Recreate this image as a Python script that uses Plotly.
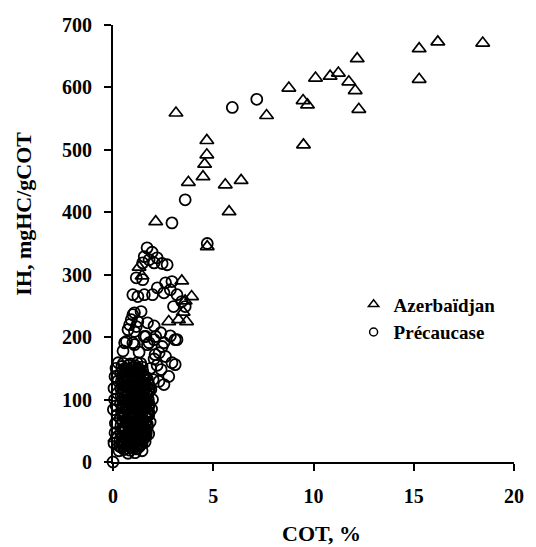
import plotly.graph_objects as go

# ---------------- data ----------------
az_cot = [3.14, 18.44, 16.2, 15.27, 15.27, 12.18, 12.26, 12.08, 11.76, 11.24,
          10.83, 10.1, 8.77, 9.48, 9.7, 7.66, 9.5, 4.68, 4.68, 4.57,
          4.49, 3.76, 5.6, 6.39, 5.79, 2.13, 4.7, 1.3, 1.45, 3.43,
          3.92, 3.6, 2.78, 3.27, 3.67, 3.5, 0.1, 0.25, 0.6, 1.2, 0.9, 1.6]
az_ih = [559, 671, 673, 662, 613, 646, 565, 595, 609, 623,
         618, 615, 599, 579, 572, 555, 508, 515, 492, 477,
         457, 448, 444, 451, 401, 385, 345, 312, 298, 290,
         265, 258, 225, 228, 225, 240, 38, 28, 120, 150, 60, 100]

pc_cot = [
    0, 5.95, 7.17, 3.6, 2.94, 4.7,
    1.7, 1.95, 1.56, 1.8, 2.2, 2.7, 1.48, 2.05, 2.45,
    1.16, 1.48, 0.99, 1.24, 1.56, 1.97, 2.21, 2.62, 2.94, 2.86, 3.19, 3.43, 3.02, 3.6, 2.54,
    1.07, 1.4, 0.91, 1.24, 1.72, 2.05, 2.38, 2.86, 3.1, 0.75, 1.07, 1.56, 2.05, 0.58, 1.07, 1.72, 2.54,
    0.99, 0.83, 1.16, 0.67, 0.99, 1.64, 2.13, 1.8, 2.45, 2.62, 2.94, 2.78, 2.54, 2.29, 3.1, 3.19,
    0.5, 1.3, 2.1, 2.2, 2.4, 2.05, 2.3,
    0.05, 0.12, 0.08, 0.15, 0.05, 0.2, 0.18, 0.3, 0.22, 0.15, 0.25, 0.34, 0.1, 0.02, 0.1, 0.26,
    1.89, 1.97, 1.8, 1.72, 1.64, 1.32, 2.0, 1.92, 1.85, 1.78, 1.6, 1.45, 1.1, 0.75, 1.88,
    0.42, 0.58, 0.74, 0.9, 1.06, 1.22, 1.38,
    0.35, 0.52, 0.68, 0.85, 1.0, 1.17, 1.34, 1.5,
    0.38, 0.55, 0.72, 0.88, 1.04, 1.2, 1.36, 1.52, 1.66,
    0.4, 0.57, 0.73, 0.9, 1.07, 1.23, 1.4, 1.56, 1.7,
    0.36, 0.52, 0.69, 0.86, 1.02, 1.19, 1.35, 1.52, 1.68, 1.78,
    0.42, 0.58, 0.75, 0.92, 1.08, 1.25, 1.42, 1.58, 1.74,
    0.37, 0.54, 0.7, 0.87, 1.03, 1.2, 1.37, 1.54, 1.7, 1.8,
    0.41, 0.58, 0.74, 0.91, 1.08, 1.24, 1.4, 1.57, 1.73,
    0.38, 0.55, 0.71, 0.88, 1.05, 1.21, 1.38, 1.54, 1.7, 1.82,
    0.42, 0.58, 0.75, 0.92, 1.08, 1.25, 1.41, 1.58, 1.72,
    0.38, 0.55, 0.72, 0.88, 1.05, 1.22, 1.38, 1.55,
    0.44, 0.6, 0.78, 0.95, 1.12, 1.28, 1.45,
    0.5, 0.82, 1.14, 1.45,
    0.46, 0.8, 1.12, 1.45,
    0.45, 0.78, 1.1, 1.44, 1.75,
    0.46, 0.8, 1.12, 1.46, 1.76,
    0.47, 0.8, 1.13, 1.46, 1.78,
    0.48, 0.82, 1.15, 1.48,
    0.44, 0.78, 1.1, 1.42, 1.6,
    0.48, 0.8, 1.14, 1.48, 1.62,
    0.46, 0.8, 1.14, 1.48, 1.78,
    0.46, 0.8, 1.14, 1.48, 1.78,
    0.48, 0.82, 1.16, 1.5, 1.65,
    0.5, 0.66, 0.98, 1.3,
    0.6, 0.93, 1.26, 1.55,
    0.63, 0.96, 1.28, 1.6,
    0.65, 0.98, 1.31, 1.64,
    0.6, 0.94, 1.27, 1.6,
    0.66, 0.98, 1.32, 1.66,
    0.62, 0.95, 1.29, 1.62,
    0.66, 0.99, 1.32, 1.65,
    0.63, 0.96, 1.3, 1.62,
    0.66, 0.99, 1.33, 1.58,
    0.64, 0.97, 1.3,
    0.52, 0.86, 1.2, 1.38,
    0.55, 0.85, 1.15,
]
pc_ih = [
    0, 568, 581, 420, 383, 350,
    343, 336, 329, 324, 327, 316, 319, 319, 318,
    295, 292, 268, 265, 268, 268, 279, 287, 289, 276, 268, 257, 249, 249, 271,
    239, 241, 228, 225, 223, 218, 207, 202, 196, 212, 209, 201, 196, 191, 188, 188, 191,
    236, 220, 217, 193, 191, 201, 201, 191, 185, 169, 159, 137, 124, 129, 156, 196,
    178, 176, 172, 155, 148, 165, 175,
    30, 62, 100, 150, 118, 75, 40, 18, 110, 90, 130, 25, 47, 84, 137, 159,
    116, 100, 79, 57, 41, 25, 132, 85, 64, 45, 32, 18, 15, 14, 150,
    24, 21, 27, 23, 26, 22, 28,
    36, 33, 38, 34, 37, 32, 35, 38,
    47, 50, 45, 49, 46, 51, 44, 48, 46,
    59, 56, 61, 58, 62, 57, 60, 55, 61,
    70, 73, 68, 72, 69, 74, 70, 67, 72, 75,
    82, 79, 84, 81, 85, 80, 83, 86, 81,
    94, 91, 96, 93, 97, 92, 95, 90, 96, 93,
    106, 103, 108, 105, 109, 104, 107, 102, 108,
    118, 115, 120, 117, 121, 116, 119, 114, 120, 117,
    130, 127, 132, 129, 133, 128, 131, 126, 132,
    142, 139, 144, 141, 145, 140, 143, 138,
    153, 150, 155, 151, 154, 149, 152,
    30, 29, 31, 30,
    53, 54, 52, 53,
    77, 76, 78, 76, 77,
    100, 99, 101, 99, 100,
    124, 123, 125, 123, 124,
    147, 146, 148, 146,
    41, 42, 40, 42, 41,
    65, 64, 66, 64, 65,
    88, 89, 87, 89, 88,
    112, 111, 113, 111, 112,
    136, 135, 137, 135, 136,
    27, 26, 28, 27,
    39, 38, 40, 39,
    51, 50, 52, 51,
    63, 62, 64, 63,
    75, 74, 76, 75,
    87, 86, 88, 87,
    99, 98, 100, 99,
    111, 110, 112, 111,
    123, 122, 124, 123,
    135, 134, 136, 135,
    146, 145, 147,
    158, 157, 159, 158,
    20, 19, 21,
]
assert len(pc_cot) == len(pc_ih)
assert len(az_cot) == len(az_ih)

series_names = ["Azerbaïdjan", "Précaucase"]
x_ticks = [0, 5, 10, 15, 20]
y_ticks = [0, 100, 200, 300, 400, 500, 600, 700]

FONT = "Liberation Serif"

fig = go.Figure()

fig.add_trace(go.Scatter(
    x=pc_cot, y=pc_ih, mode="markers", showlegend=False, cliponaxis=False,
    marker=dict(symbol="circle-open", size=11, color="black",
                line=dict(width=1.8, color="black")),
))
fig.add_trace(go.Scatter(
    x=az_cot, y=az_ih, mode="markers", showlegend=False, cliponaxis=False,
    marker=dict(symbol="triangle-up-open", size=12, color="black",
                line=dict(width=1.7, color="black")),
))
# legend entries (smaller symbols, as in the reference)
fig.add_trace(go.Scatter(
    x=[None], y=[None], mode="markers", name=series_names[0],
    marker=dict(symbol="triangle-up-open", size=9, color="black",
                line=dict(width=1.5, color="black")),
))
fig.add_trace(go.Scatter(
    x=[None], y=[None], mode="markers", name=series_names[1],
    marker=dict(symbol="circle-open", size=8, color="black",
                line=dict(width=1.5, color="black")),
))

axis_common = dict(
    showline=True, linecolor="black", linewidth=2,
    ticks="outside", ticklen=7, tickwidth=2, tickcolor="black",
    showgrid=False, zeroline=False,
    tickfont=dict(family=FONT, size=20, color="black", weight="bold"),
)

fig.update_xaxes(range=[0, 20], tickvals=x_ticks, ticklabelstandoff=8, **axis_common)
fig.update_yaxes(range=[0, 700], tickvals=y_ticks, ticklabelstandoff=8, **axis_common)

fig.update_layout(
    width=536, height=547,
    margin=dict(l=113, r=13, t=25, b=85),
    plot_bgcolor="white", paper_bgcolor="white",
    legend=dict(x=0.6, y=0.404, xanchor="left", yanchor="top",
                bgcolor="rgba(0,0,0,0)",
                font=dict(family=FONT, size=19, color="black", weight="bold"),
                tracegroupgap=2),
    annotations=[
        dict(text="COT, %", xref="paper", yref="paper", x=0.519, y=-0.163,
             xanchor="center", yanchor="middle", showarrow=False,
             font=dict(family=FONT, size=22, color="black", weight="bold")),
        dict(text="IH, mgHC/gCOT", xref="paper", yref="paper", x=-0.222, y=0.568,
             xanchor="center", yanchor="middle", showarrow=False, textangle=-90,
             font=dict(family=FONT, size=22, color="black", weight="bold")),
    ],
)

fig.write_html("out.html")
